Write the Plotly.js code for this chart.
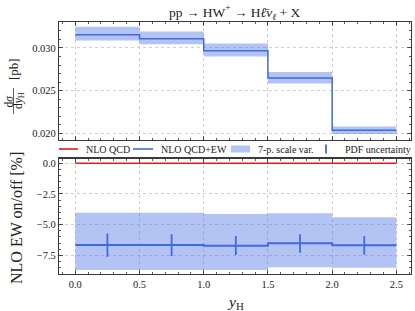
<!DOCTYPE html>
<html>
<head>
<meta charset="utf-8">
<script src="https://cdn.plot.ly/plotly-3.0.1.min.js"></script>
<style>html,body{margin:0;padding:0;background:#fff;}#chart{width:415px;height:311px;}</style>
</head>
<body>
<div id="chart"></div>
<script>
// ---- data ----
const binEdges = [0.0, 0.5, 1.0, 1.5, 2.0, 2.5];
const binCenters = [0.25, 0.75, 1.25, 1.75, 2.25];
const xsecCentral = [0.03156, 0.03109, 0.02968, 0.02647, 0.02035];
const xsecScaleUp = [0.03247, 0.03192, 0.03051, 0.02718, 0.02078];
const xsecScaleDown = [0.03086, 0.03042, 0.02901, 0.02584, 0.01992];
const qcdRatio = [0.0, 0.0, 0.0, 0.0, 0.0];
const ewCentral = [-6.66, -6.66, -6.72, -6.52, -6.68];
const ewScaleUp = [-4.03, -4.03, -4.13, -4.08, -4.40];
const ewScaleDown = [-8.70, -8.70, -8.70, -8.48, -8.51];
const ewPdfUp = [-5.71, -5.79, -5.93, -5.79, -5.93];
const ewPdfDown = [-7.61, -7.56, -7.48, -7.29, -7.45];
const legendLabels = ['NLO QCD', 'NLO QCD+EW', '7-p. scale var.', 'PDF uncertainty'];
const xTickVals = [0.0, 0.5, 1.0, 1.5, 2.0, 2.5];
const xTickText = ['0.0', '0.5', '1.0', '1.5', '2.0', '2.5'];
const topTickVals = [0.020, 0.025, 0.030];
const topTickText = ['0.020', '0.025', '0.030'];
const botTickVals = [0.0, -2.5, -5.0, -7.5];
const botTickText = ['0.0', '\u22122.5', '\u22125.0', '\u22127.5'];

// ---- styling ----
const BLUE = '#4169e1';
const BAND = 'rgba(65,105,225,0.4)';
const RED = '#e41a1c';
const FONT = 'Liberation Serif, DejaVu Serif, serif';
const step = a => a.concat([a[a.length - 1]]);

const traces = [
  // top panel band
  {x: binEdges, y: step(xsecScaleUp), xaxis: 'x', yaxis: 'y', mode: 'lines',
   line: {shape: 'hv', width: 0, color: BAND}, hoverinfo: 'skip', showlegend: false},
  {x: binEdges, y: step(xsecScaleDown), xaxis: 'x', yaxis: 'y', mode: 'lines',
   line: {shape: 'hv', width: 0, color: BAND}, fill: 'tonexty', fillcolor: BAND, hoverinfo: 'skip', showlegend: false},
  {x: binEdges, y: step(xsecCentral), xaxis: 'x', yaxis: 'y', mode: 'lines',
   line: {shape: 'hv', width: 1.5, color: BLUE}, showlegend: false},
  // bottom panel
  {x: binEdges, y: step(qcdRatio), xaxis: 'x2', yaxis: 'y2', mode: 'lines',
   line: {shape: 'hv', width: 1.6, color: RED}, showlegend: false},
  {x: binEdges, y: step(ewScaleUp), xaxis: 'x2', yaxis: 'y2', mode: 'lines',
   line: {shape: 'hv', width: 0, color: BAND}, hoverinfo: 'skip', showlegend: false},
  {x: binEdges, y: step(ewScaleDown), xaxis: 'x2', yaxis: 'y2', mode: 'lines',
   line: {shape: 'hv', width: 0, color: BAND}, fill: 'tonexty', fillcolor: BAND, hoverinfo: 'skip', showlegend: false},
  {x: binEdges, y: step(ewCentral), xaxis: 'x2', yaxis: 'y2', mode: 'lines',
   line: {shape: 'hv', width: 2, color: BLUE}, showlegend: false},
  {x: binCenters, y: ewCentral, xaxis: 'x2', yaxis: 'y2', mode: 'markers',
   marker: {size: 1, color: BLUE, opacity: 0},
   error_y: {type: 'data', symmetric: false,
     array: ewPdfUp.map((v, i) => v - ewCentral[i]),
     arrayminus: ewCentral.map((v, i) => v - ewPdfDown[i]),
     width: 0, thickness: 1.8, color: BLUE},
   showlegend: false}
];

const axisCommon = {
  showline: true, linecolor: '#3a3a3a', linewidth: 1.1, mirror: 'allticks',
  ticks: 'inside', ticklen: 4, tickwidth: 0.8, tickcolor: '#333',
  showgrid: true, gridcolor: '#c4c4c4', gridwidth: 0.8, griddash: 'dot',
  zeroline: false, tickfont: {family: FONT, size: 10.5, color: '#222'}
};

const PX = px => (px - 59) / 352;      // pixel -> paper x
const PY = py => (274 - py) / 252;     // pixel -> paper y

const layout = {
  width: 415, height: 311,
  margin: {l: 59, r: 4, t: 22, b: 37, pad: 0},
  paper_bgcolor: '#fff', plot_bgcolor: '#fff',
  showlegend: false,
  font: {family: FONT, color: '#222'},
  xaxis: Object.assign({}, axisCommon, {domain: [0, 1], anchor: 'y', range: [-0.127, 2.614],
    tickvals: xTickVals, ticktext: xTickText, showticklabels: false,
    minor: {dtick: 0.1, tick0: 0, ticks: 'inside', ticklen: 2, tickcolor: '#333', showgrid: false}}),
  yaxis: Object.assign({}, axisCommon, {domain: [0.5337, 1], anchor: 'x', range: [0.01927, 0.03304],
    tickvals: topTickVals, ticktext: topTickText,
    minor: {dtick: 0.001, tick0: 0, ticks: 'inside', ticklen: 2, tickcolor: '#333', showgrid: false}}),
  xaxis2: Object.assign({}, axisCommon, {domain: [0, 1], anchor: 'y2', range: [-0.127, 2.614],
    tickvals: xTickVals, ticktext: xTickText,
    minor: {dtick: 0.1, tick0: 0, ticks: 'inside', ticklen: 2, tickcolor: '#333', showgrid: false}}),
  yaxis2: Object.assign({}, axisCommon, {domain: [0, 0.4583], anchor: 'x2', range: [-9.02, 0.39],
    tickvals: botTickVals, ticktext: botTickText,
    minor: {dtick: 0.5, tick0: 0, ticks: 'inside', ticklen: 2, tickcolor: '#333', showgrid: false}}),
  shapes: [
    // legend glyphs
    {type: 'line', xref: 'paper', yref: 'paper', x0: PX(59), x1: PX(78), y0: PY(149), y1: PY(149), line: {color: RED, width: 1.6}},
    {type: 'line', xref: 'paper', yref: 'paper', x0: PX(133), x1: PX(153), y0: PY(149), y1: PY(149), line: {color: BLUE, width: 1.6}},
    {type: 'rect', xref: 'paper', yref: 'paper', x0: PX(231), x1: PX(250), y0: PY(152.5), y1: PY(145.5), fillcolor: BAND, line: {width: 0}},
    {type: 'line', xref: 'paper', yref: 'paper', x0: PX(326), x1: PX(326), y0: PY(153.5), y1: PY(144.5), line: {color: BLUE, width: 1.8}},
    // fraction bar of top y label
    {type: 'line', xref: 'paper', yref: 'paper', x0: PX(13.5), x1: PX(13.5), y0: PY(114), y1: PY(88), line: {color: '#222', width: 0.7}}
  ],
  annotations: [
    {text: 'pp \u2192 HW<sup>+</sup> \u2192 H<i>\u2113\u0304\u03bd</i><sub><i>\u2113</i></sub> + X', xref: 'paper', yref: 'paper',
     x: PX(235), y: PY(13), xanchor: 'center', yanchor: 'middle', showarrow: false, font: {family: FONT, size: 13.5, color: '#222'}},
    {text: legendLabels[0], xref: 'paper', yref: 'paper', x: PX(84), y: PY(149), xanchor: 'left', yanchor: 'middle', showarrow: false, font: {family: FONT, size: 10, color: '#222'}},
    {text: legendLabels[1], xref: 'paper', yref: 'paper', x: PX(158.5), y: PY(149), xanchor: 'left', yanchor: 'middle', showarrow: false, font: {family: FONT, size: 10, color: '#222'}},
    {text: legendLabels[2], xref: 'paper', yref: 'paper', x: PX(256), y: PY(149), xanchor: 'left', yanchor: 'middle', showarrow: false, font: {family: FONT, size: 10, color: '#222'}},
    {text: legendLabels[3], xref: 'paper', yref: 'paper', x: PX(342.5), y: PY(149), xanchor: 'left', yanchor: 'middle', showarrow: false, font: {family: FONT, size: 10, color: '#222'}},
    // top y label
    {text: '[pb]', xref: 'paper', yref: 'paper', x: PX(13), y: PY(69), xanchor: 'center', yanchor: 'middle', textangle: -90, showarrow: false, font: {family: FONT, size: 13, color: '#222'}},
    {text: 'd<i>\u03c3</i>', xref: 'paper', yref: 'paper', x: PX(8.5), y: PY(101), xanchor: 'center', yanchor: 'middle', textangle: -90, showarrow: false, font: {family: FONT, size: 11.5, color: '#222'}},
    {text: 'd<i>y</i><sub>H</sub>', xref: 'paper', yref: 'paper', x: PX(19), y: PY(101), xanchor: 'center', yanchor: 'middle', textangle: -90, showarrow: false, font: {family: FONT, size: 11.5, color: '#222'}},
    // bottom y label
    {text: 'NLO EW on/off [%]', xref: 'paper', yref: 'paper', x: PX(16), y: PY(218), xanchor: 'center', yanchor: 'middle', textangle: -90, showarrow: false, font: {family: FONT, size: 16, color: '#222'}},
    // x label
    {text: '<i>y</i><sub>H</sub>', xref: 'paper', yref: 'paper', x: PX(235), y: PY(302), xanchor: 'center', yanchor: 'middle', showarrow: false, font: {family: FONT, size: 15.5, color: '#222'}}
  ]
};

Plotly.newPlot('chart', traces, layout, {staticPlot: true, displayModeBar: false});
</script>
</body>
</html>
